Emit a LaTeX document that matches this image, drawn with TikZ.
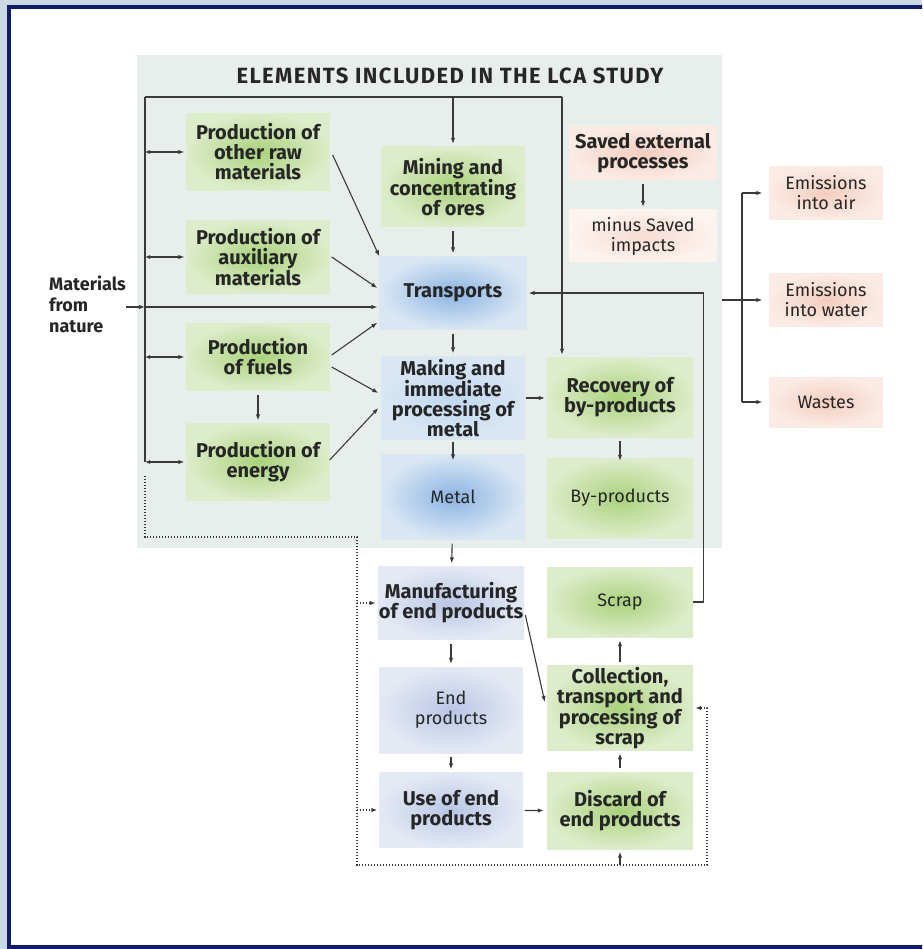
\documentclass[tikz,border=0pt]{standalone}
\usepackage{fontspec}
\setmainfont{Fira Sans}
\usetikzlibrary{positioning,arrows.meta,calc}

\definecolor{frameblue}{HTML}{CBD9E3}
\definecolor{framenavy}{HTML}{0E1C6B}
\definecolor{panelgrey}{HTML}{E8EEEB}
\definecolor{linegrey}{HTML}{3A3A3A}
\definecolor{leafgreen}{HTML}{AAD27C}
\definecolor{palegreen}{HTML}{DDECCA}
\definecolor{skyblue}{HTML}{8CB4E2}
\definecolor{paleblue}{HTML}{D9E7F4}
\definecolor{mistblue}{HTML}{C0D7EF}
\definecolor{lavender}{HTML}{B9C6E5}
\definecolor{palelavender}{HTML}{E4E9F4}
\definecolor{salmon}{HTML}{F4CDBE}
\definecolor{palesalmon}{HTML}{FBEBE4}

\tikzset{
  stage/.style={
    minimum width=143pt,
    minimum height={#1pt},
    inner sep=1pt,
    align=center,
    text=black!85,
    font=\fontsize{20}{20}\selectfont\bfseries,
  },
  stage/.default=75,
  light text/.style={font=\fontsize{18}{20}\selectfont},
  green box/.style={stage=#1, inner color=leafgreen, outer color=palegreen},
  blue box/.style={stage=#1, inner color=skyblue, outer color=paleblue},
  mist box/.style={stage=#1, inner color=mistblue, outer color=paleblue},
  lavender box/.style={stage=#1, inner color=lavender, outer color=palelavender},
  salmon box/.style={stage=#1, inner color=salmon, outer color=palesalmon},
  pale salmon box/.style={stage=#1, inner color=salmon!70!white, outer color=palesalmon!60!white},
  link/.style={draw=linegrey, line width=1.1pt},
  flow/.style={link, -{Latex[length=6pt,width=4.5pt]}},
  both flow/.style={link, {Latex[length=5pt,width=4pt]}-{Latex[length=6pt,width=4.5pt]}},
  gap flow/.style={flow, shorten <=4pt, shorten >=3pt},
  loop line/.style={draw=linegrey, line width=1.2pt, dash pattern=on 1.3pt off 1.7pt},
  loop flow/.style={loop line, -{Latex[length=6pt,width=4.5pt]}},
}

\begin{document}
\begin{tikzpicture}[x=1pt, y=-1pt]
  \useasboundingbox (0,0) rectangle (922,949);
  \begin{scope}
    \clip (0,0) rectangle (922,949);
    \fill[frameblue] (0,0) rectangle (922,949);
    \draw[framenavy, line width=4.5pt, fill=white] (9,7) rectangle (940,947.5);
  \end{scope}

  \node [fill=panelgrey, minimum width=585pt, minimum height=493pt] (panel) at (429.5,301.5) {};
  \node [font=\fontsize{22}{22}\selectfont\bfseries\addfontfeature{LetterSpace=6.5}, text=black!85] (title) at (450,76) {ELEMENTS INCLUDED IN THE LCA STUDY};

  \node [green box=77] (raw) at (258,152) {Production of\\other raw\\materials};
  \node [green box=73] (aux) at (258,257) {Production of\\auxiliary\\materials};
  \node [green box=67] (fuels) at (258,357) {Production\\of fuels};
  \node [green box=77] (energy) at (258,462) {Production of\\energy};

  \node [green box=80] (mining) at (453,187) {Mining and\\concentrating\\of ores};
  \node [blue box=73, minimum width=147pt] (transports) at (453,293) {Transports};
  \node [mist box=83] (making) at (453,398) {Making and\\immediate\\processing of\\metal};
  \node [blue box=85, light text] (metal) at (453,497) {Metal};

  \node [green box=80, minimum width=146pt] (recovery) at (620,397) {Recovery of\\by-products};
  \node [green box=80, minimum width=146pt, light text] (byproducts) at (620,498) {By-products};
  \node [salmon box=53, minimum width=147pt] (saved) at (643,153) {Saved external\\processes};
  \node [pale salmon box=52, minimum width=147pt, light text] (minus) at (643,236) {minus Saved\\impacts};

  \node [salmon box=53, minimum width=113pt, light text] (air) at (826,193) {Emissions\\into air};
  \node [salmon box=53, minimum width=113pt, light text] (water) at (826,300) {Emissions\\into water};
  \node [salmon box=50, minimum width=113pt, light text] (wastes) at (826,402) {Wastes};

  \node [lavender box=73] (manufacturing) at (451,603) {Manufacturing\\of end products};
  \node [lavender box=86, light text] (endproducts) at (451,710) {End\\products};
  \node [lavender box=75] (use) at (451,810) {Use of end\\products};
  \node [green box=70, minimum width=146pt, light text] (scrap) at (620,602) {Scrap};
  \node [green box=83, minimum width=146pt] (collection) at (620,708) {Collection,\\transport and\\processing of\\scrap};
  \node [green box=77, minimum width=146pt] (discard) at (620,811) {Discard of\\end products};

  \node [font=\fontsize{18}{21}\selectfont\bfseries, align=left, text=black!85, inner sep=0pt, anchor=west] (nature) at (49,304) {Materials\\from\\nature};

  \coordinate (tl) at (145,97);
  \coordinate (tr) at (562,97);
  \coordinate (eb) at (742,300);
  \coordinate (dl) at (357,537);
  \coordinate (dr) at (707,865);

  \draw [link] (tl) -- (tr);
  \draw [link] (tl) -- (tl |- energy.west);
  \draw [flow, shorten >=3pt] (tl -| mining) -- (mining.north);
  \draw [flow, shorten >=2pt] (tr) -- (tr |- recovery.north);
  \foreach \n in {raw,aux,fuels,energy}
    \draw [both flow, shorten >=2pt] (tl |- \n.west) -- (\n.west);

  \draw [flow] (nature.east |- 0,307) -- (tl |- 0,307);
  \draw [flow, shorten >=2pt] (tl |- 0,307) -- (transports.west |- 0,307);

  \draw [flow] ($(raw.east)+(3,3)$) -- (transports.north west);
  \draw [flow] ($(aux.east)+(2,0)$) -- ($(transports.west)+(-2,-5)$);
  \draw [flow] ($(fuels.east)+(2,-2)$) -- ($(transports.south west)+(-2,-7)$);
  \draw [flow] ($(fuels.east)+(2,10)$) -- ($(making.west)+(-3,-5)$);
  \draw [flow] ($(energy.east)+(0,-2)$) -- ($(making.west)+(-3,10)$);
  \draw [gap flow] (fuels) -- (energy);

  \draw [gap flow] (mining) -- (transports);
  \draw [gap flow] (transports) -- (making);
  \draw [flow] ($(making.south)+(0,2)$) -- ($(metal.north)+(0,6)$);
  \draw [flow, shorten <=1pt, shorten >=2pt] (making.east) -- (making.east -| recovery.west);
  \draw [flow] ($(recovery.south)+(0,4)$) -- ($(byproducts.north)+(0,3)$);
  \draw [gap flow] (saved) -- (minus);

  \draw [flow, shorten >=7pt] (panel.east |- water.west) -- (water.west);
  \draw [link] (eb |- air.west) -- (eb |- wastes.west);
  \draw [flow, shorten >=7pt] (eb |- air.west) -- (air.west);
  \draw [flow, shorten >=7pt] (eb |- wastes.west) -- (wastes.west);

  \draw [gap flow] (metal) -- (manufacturing);
  \draw [gap flow] (manufacturing) -- (endproducts);
  \draw [gap flow] (endproducts) -- (use);
  \draw [flow, shorten <=2pt, shorten >=3pt] (use) -- (discard);
  \draw [gap flow] (discard) -- (collection);
  \draw [gap flow] (collection) -- (scrap);
  \draw [flow, shorten >=2pt] (scrap.east) -- ++(10,0) |- (transports.east);
  \draw [flow] ($(manufacturing.east)+(1,12)$) -- ($(collection.west)+(-2,-6)$);

  \draw [loop flow, shorten >=2pt] ($(tl |- energy.west)+(0,14)$) |- (dl) |- (dr) |- (collection.east);
  \draw [loop flow, shorten >=2pt] (dl |- manufacturing.west) -- (manufacturing.west);
  \draw [loop flow, shorten >=2pt] (dl |- use.west) -- (use.west);
  \draw [flow, shorten >=2pt] (discard.south |- dr) -- (discard.south);
\end{tikzpicture}
\end{document}
